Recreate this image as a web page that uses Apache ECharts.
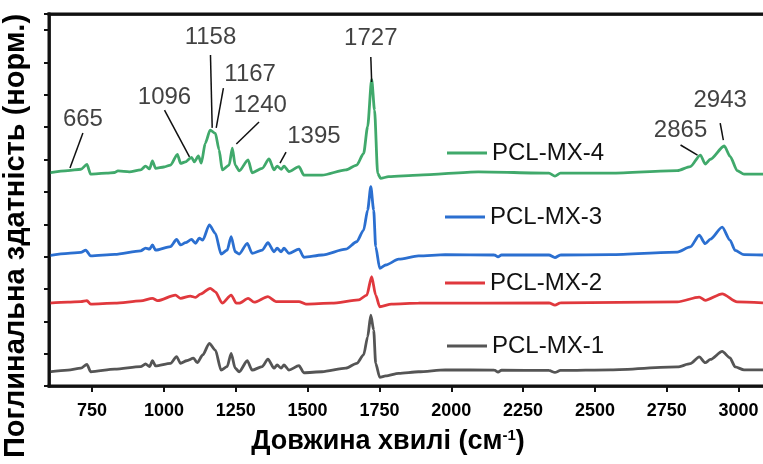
<!DOCTYPE html>
<html><head><meta charset="utf-8">
<script src="https://cdn.jsdelivr.net/npm/echarts@6/dist/echarts.min.js"></script>
<style>html,body{margin:0;padding:0;background:#fff}#c{width:763px;height:464px}</style>
</head><body><div id="c"></div>
<script>
// x tick labels
const xTicks = [750, 1000, 1250, 1500, 1750, 2000, 2250, 2500, 2750, 3000];
const seriesNames = ['PCL-MX-1', 'PCL-MX-2', 'PCL-MX-3', 'PCL-MX-4'];

// PCL-MX-4 (green)
const mx4Wn = [600,666,711,732,745,800,829,840,880,919,936,950,960,971,1000,1023,1047,1058,1075,1096,1106,1120,1130,1144,1161,1179,1192,1203,1227,1238,1248,1262,1293,1307,1342,1366,1383,1394,1408,1418,1435,1470,1487,1550,1633,1671,1695,1709,1723,1733,1744,1754,1782,1886,2094,2340,2361,2380,2555,2787,2832,2867,2884,2902,2950,2971,2995,3019,3085];
const mx4Abs = [6.59,6.66,6.70,6.85,6.55,6.58,6.60,6.65,6.62,6.68,6.80,6.71,6.96,6.73,6.77,6.83,7.16,6.88,6.93,7.07,6.93,7.11,6.89,7.51,7.91,7.81,7.30,6.68,6.83,7.35,6.83,6.65,6.99,6.59,6.73,7.02,6.68,6.80,6.70,6.80,6.63,6.78,6.52,6.52,6.68,6.83,7.19,8.02,9.48,8.53,6.57,6.42,6.47,6.52,6.62,6.58,6.49,6.58,6.58,6.66,6.78,7.14,6.86,7.01,7.42,7.09,6.66,6.55,6.55];

// PCL-MX-3 (blue)
const mx3Wn = [600,666,711,728,745,829,919,936,950,960,971,1023,1044,1058,1075,1096,1110,1123,1135,1158,1179,1199,1220,1234,1248,1262,1290,1307,1342,1362,1383,1394,1408,1418,1435,1470,1487,1550,1633,1671,1695,1709,1720,1730,1737,1751,1772,1817,1886,1979,2150,2163,2175,2340,2361,2380,2555,2787,2832,2863,2884,2902,2943,2970,2988,3019,3085];
const mx3Abs = [4.03,4.10,4.13,4.20,4.02,4.07,4.18,4.26,4.23,4.36,4.20,4.31,4.53,4.36,4.43,4.53,4.41,4.57,4.51,4.98,4.72,4.08,4.20,4.62,4.15,4.08,4.41,4.10,4.20,4.43,4.15,4.26,4.15,4.26,4.10,4.23,3.98,4.05,4.23,4.46,4.82,5.44,6.16,5.44,4.31,3.64,3.74,3.92,4.02,4.06,4.05,3.99,4.05,4.05,3.97,4.05,4.06,4.14,4.30,4.66,4.40,4.54,4.91,4.51,4.19,4.06,4.05];

// PCL-MX-2 (red)
const mx2Wn = [600,666,711,732,745,829,919,960,978,1040,1058,1092,1110,1127,1161,1179,1203,1234,1252,1262,1293,1314,1362,1390,1470,1494,1584,1678,1706,1723,1737,1751,1792,1886,2340,2361,2380,2787,2863,2884,2943,2995,3085];
const mx2Abs = [2.56,2.59,2.61,2.64,2.53,2.56,2.63,2.71,2.64,2.81,2.71,2.78,2.74,2.84,3.02,2.91,2.56,2.81,2.56,2.56,2.71,2.59,2.76,2.61,2.61,2.53,2.56,2.66,2.81,3.38,2.81,2.45,2.53,2.56,2.57,2.50,2.57,2.60,2.75,2.65,2.85,2.60,2.57];

// PCL-MX-1 (grey)
const mx1Wn = [600,666,711,732,745,829,919,936,950,960,971,1023,1044,1058,1079,1103,1116,1135,1158,1179,1199,1220,1234,1248,1262,1290,1307,1342,1362,1383,1394,1408,1418,1435,1470,1487,1550,1633,1671,1695,1709,1720,1730,1737,1751,1772,1817,1886,1979,2150,2163,2175,2340,2361,2380,2555,2787,2832,2863,2884,2902,2943,2970,2988,3019,3085];
const mx1Abs = [0.44,0.49,0.55,0.67,0.44,0.52,0.60,0.68,0.60,0.78,0.62,0.70,0.91,0.70,0.78,0.86,0.72,0.96,1.32,1.11,0.49,0.60,1.01,0.55,0.44,0.78,0.49,0.60,0.83,0.55,0.65,0.55,0.65,0.49,0.63,0.41,0.44,0.55,0.70,0.96,1.52,2.19,1.73,0.70,0.27,0.31,0.39,0.44,0.50,0.49,0.43,0.49,0.48,0.42,0.48,0.50,0.59,0.69,0.90,0.72,0.82,1.07,0.87,0.59,0.50,0.50];

// peak annotations (data coordinates)
const annoLabels = ['665','1096','1158','1167','1240','1395','1727','2865','2943'];
const annoTextX = [718,1002,1162,1300,1335,1522,1720,2798,2936];
const annoTextY = [8.25,8.93,10.79,9.64,8.66,7.73,10.76,7.91,8.84];
const leaderFrom = [[718,7.82],[1002,8.53],[1162,10.23],[1207,9.21],[1331,8.16],[1425,7.23],[1720,10.17],[2798,7.45],[2936,8.13]];
const leaderTo = [[673,6.74],[1089,7.08],[1168,7.98],[1182,7.98],[1252,7.48],[1404,6.89],[1723,9.40],[2857,7.14],[2947,7.60]];

const X_MIN = 600, X_MAX = 3085, Y_MIN = 0, Y_MAX = 11.5;
const colors = ['#555555', '#e0383d', '#2b6fd0', '#40a96b'];
const wnSets = [mx1Wn, mx2Wn, mx3Wn, mx4Wn];
const absSets = [mx1Abs, mx2Abs, mx3Abs, mx4Abs];
const legendTops = [334, 271, 205, 141];
const legendLefts = [447, 445, 445, 447];

const FONT = '"Liberation Sans", Arial, sans-serif';
const chart = echarts.init(document.getElementById('c'), null, {renderer: 'canvas'});

const lineSeries = seriesNames.map((n, i) => ({
  name: n, type: 'line', symbol: 'none', showSymbol: false,
  smooth: 0.25, smoothMonotone: 'x',
  data: wnSets[i].map((w, k) => [w, absSets[i][k]]),
  lineStyle: {color: colors[i], width: 2.8}, itemStyle: {color: colors[i]},
  z: 3
}));

const AXIS_W = 2.6;
const option = {
  animation: false,
  backgroundColor: '#ffffff',
  grid: {left: 49, right: -3, top: 14, bottom: 78},
  xAxis: [{
    type: 'value', min: X_MIN, max: X_MAX, position: 'bottom',
    axisLine: {show: true, onZero: false, lineStyle: {color: '#111', width: AXIS_W}},
    axisTick: {show: true, customValues: xTicks, length: 6, lineStyle: {color: '#111', width: 2}},
    axisLabel: {show: true, customValues: xTicks, formatter: v => String(v), fontFamily: FONT, fontWeight: 'bold', fontSize: 18, color: '#000', margin: 16},
    splitLine: {show: false}
  }, {
    type: 'value', min: X_MIN, max: X_MAX, position: 'top',
    axisLine: {show: true, onZero: false, lineStyle: {color: '#111', width: AXIS_W}},
    axisTick: {show: false}, axisLabel: {show: false}, splitLine: {show: false}
  }],
  yAxis: {
    type: 'value', min: Y_MIN, max: Y_MAX, interval: 1,
    axisLine: {show: true, onZero: false, lineStyle: {color: '#111', width: AXIS_W}},
    axisTick: {show: true, length: 5, lineStyle: {color: '#111', width: 2}},
    axisLabel: {show: false}, splitLine: {show: false}
  },
  legend: seriesNames.map((n, i) => ({
    data: [n], left: legendLefts[i], top: legendTops[i], padding: 0, itemGap: 0,
    icon: 'rect', itemWidth: 40, itemHeight: 3, selectedMode: false,
    textStyle: {fontFamily: FONT, fontSize: 24, color: '#111', padding: [0, 0, 0, 0]}
  })),
  series: lineSeries.concat([{
    name: 'annotations', type: 'scatter', symbolSize: 0, silent: true,
    data: annoLabels.map((l, i) => [annoTextX[i], annoTextY[i], l]),
    label: {show: true, position: 'inside', formatter: p => p.value[2], fontFamily: FONT, fontSize: 24, color: '#111'},
    markLine: {
      silent: true, symbol: ['none', 'none'], animation: false,
      label: {show: false},
      lineStyle: {color: '#111', width: 1.5, type: 'solid'},
      data: leaderFrom.map((f, i) => [{coord: f}, {coord: leaderTo[i]}])
    },
    z: 5
  }]),
  graphic: [{
    type: 'text', x: 388, y: 442,
    style: {
      text: '{a|Довжина хвилі (см}{s|-1}{a|)}', align: 'center', verticalAlign: 'middle',
      rich: {
        a: {fontFamily: FONT, fontWeight: 'bold', fontSize: 27, fill: '#000', color: '#000'},
        s: {fontFamily: FONT, fontWeight: 'bold', fontSize: 15, fill: '#000', color: '#000', verticalAlign: 'top'}
      }
    }
  }, {
    type: 'text', x: 16, y: 236, rotation: Math.PI / 2,
    style: {text: 'Поглинальна здатність (норм.)', align: 'center', verticalAlign: 'middle',
      fontFamily: FONT, fontWeight: 'bold', fontSize: 29, fill: '#000'}
  }]
};
chart.setOption(option);

// plot frame drawn as thin filled bars along the axis extents
let pLB = null, pRT = null;
try {
  pLB = chart.convertToPixel({xAxisIndex: 0, yAxisIndex: 0}, [X_MIN, Y_MIN]);
  pRT = chart.convertToPixel({xAxisIndex: 0, yAxisIndex: 0}, [X_MAX, Y_MAX]);
} catch (e) {}
if (!pLB || !isFinite(pLB[0]) || !isFinite(pRT[1])) { pLB = [49, 386]; pRT = [766, 14]; }
const T = 3, frameFill = {fill: '#111'};
chart.setOption({
  graphic: [
    {id: 'frameL', type: 'rect', z: 20, silent: true, shape: {x: pLB[0] - T / 2, y: pRT[1] - T / 2, width: T, height: pLB[1] - pRT[1] + T}, style: frameFill},
    {id: 'frameB', type: 'rect', z: 20, silent: true, shape: {x: pLB[0] - T / 2, y: pLB[1] - T / 2, width: pRT[0] - pLB[0] + T, height: T}, style: frameFill},
    {id: 'frameT', type: 'rect', z: 20, silent: true, shape: {x: pLB[0] - T / 2, y: pRT[1] - T / 2, width: pRT[0] - pLB[0] + T, height: T}, style: frameFill}
  ]
});
</script>
</body></html>
